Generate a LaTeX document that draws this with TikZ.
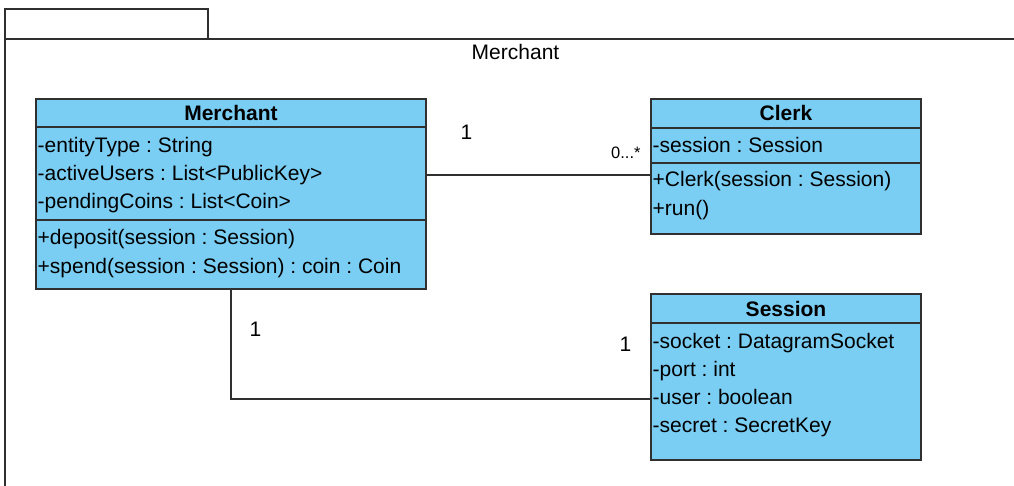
\documentclass[tikz,border=0pt]{standalone}
\usepackage{fontspec}
\setmainfont{Liberation Sans}
\frenchspacing
\usetikzlibrary{calc}
\definecolor{classfill}{RGB}{122,206,244}
\definecolor{edge}{RGB}{48,48,48}
\tikzset{
  classbox/.style={draw=edge, fill=classfill, line width=1.3pt, inner sep=0pt},
  sep/.style={draw=edge, line width=1.3pt},
  frame/.style={draw=edge, line width=1.3pt},
  assoc/.style={draw=edge, line width=1.2pt},
  member/.style={anchor=base west, inner sep=0pt, font=\fontsize{21}{24}\selectfont},
  title/.style={anchor=base, inner sep=0pt, font=\fontsize{21}{24}\selectfont\bfseries},
  mult/.style={anchor=base west, inner sep=0pt, font=\fontsize{21}{24}\selectfont},
  multsmall/.style={anchor=base west, inner sep=0pt, font=\fontsize{16.5}{19}\selectfont}
}
\begin{document}
\begin{tikzpicture}[x=1pt, y=-1pt]
\useasboundingbox (0,0) rectangle (1014,486);
\begin{scope}
\clip (0,0) rectangle (1014,486);
% package frame with its tab
\draw[frame] (5,39) rectangle (208,9);
\draw[frame] (5,520) -- (5,39) -- (1040,39);
\end{scope}
\node[anchor=base, inner sep=0pt, font=\fontsize{21}{24}\selectfont] (pkg) at (515.5,60) {Merchant};

% class Merchant
\node[classbox, minimum width=390pt, minimum height=190pt] (Merchant) at (231,194) {};
\draw[sep] (36,127) -- (426,127);
\draw[sep] (36,220) -- (426,220);
\node[title] (mt) at (231,121) {Merchant};
\node[member] (m1) at (37.5,153) {-entityType : String};
\node[member] (m2) at (37.5,181) {-activeUsers : List<PublicKey>};
\node[member] (m3) at (37.5,209) {-pendingCoins : List<Coin>};
\node[member] (m4) at (37.5,245) {+deposit(session : Session)};
\node[member] (m5) at (37.5,273) {+spend(session : Session) : coin : Coin};

% class Clerk
\node[classbox, minimum width=270pt, minimum height=135pt] (Clerk) at (786,166.5) {};
\draw[sep] (651,128) -- (921,128);
\draw[sep] (651,163) -- (921,163);
\node[title] (ct) at (786,121) {Clerk};
\node[member] (c1) at (652.5,153) {-session : Session};
\node[member] (c2) at (652.5,187) {+Clerk(session : Session)};
\node[member] (c3) at (652.5,216) {+run()};

% class Session
\node[classbox, minimum width=270pt, minimum height=166pt] (Session) at (786,377) {};
\draw[sep] (651,323) -- (921,323);
\node[title] (st) at (786,316) {Session};
\node[member] (s1) at (652.5,348) {-socket : DatagramSocket};
\node[member] (s2) at (652.5,376) {-port : int};
\node[member] (s3) at (652.5,404) {-user : boolean};
\node[member] (s4) at (652.5,432) {-secret : SecretKey};

% associations
\draw[assoc] ([yshift=19pt]Merchant.east) -- ([yshift=-8.5pt]Clerk.west);
\draw[assoc] (Merchant.south) |- ([yshift=-22pt]Session.west);

% multiplicities
\node[mult] (mc1) at (460.5,140) {1};
\node[multsmall] (mc2) at (611,159) {0...*};
\node[mult] (ms1) at (249.5,336) {1};
\node[mult] (ms2) at (619.5,351) {1};
\end{tikzpicture}
\end{document}
